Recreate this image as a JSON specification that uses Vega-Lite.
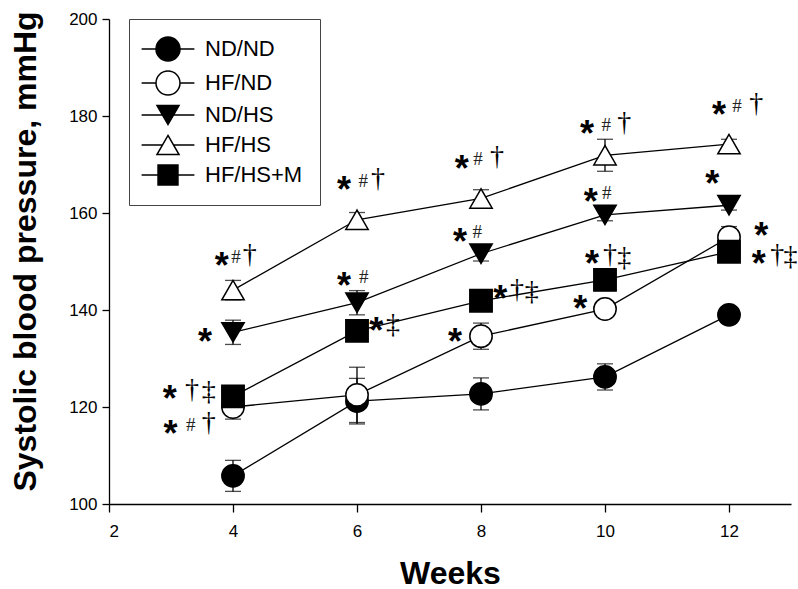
{
  "$schema": "https://vega.github.io/schema/vega-lite/v6.json",
  "width": 682,
  "height": 485,
  "autosize": "none",
  "padding": {"left": 109, "top": 19, "right": 7, "bottom": 85},
  "background": "white",
  "config": {
    "view": {"stroke": null},
    "axis": {
      "grid": false,
      "domainColor": "black",
      "tickColor": "black",
      "domainWidth": 1.3,
      "tickWidth": 1.3,
      "tickSize": 7,
      "labelFont": "Liberation Sans",
      "labelFontSize": 17,
      "labelColor": "black",
      "labelPadding": 5,
      "titleFont": "Liberation Sans",
      "titleFontWeight": "bold",
      "titleColor": "black"
    }
  },
  "datasets": {
    "bp": [
      {"week": 4, "group": "ND/ND", "sbp": 105.8, "sem": 3.2},
      {"week": 6, "group": "ND/ND", "sbp": 121.2, "sem": 4.7},
      {"week": 8, "group": "ND/ND", "sbp": 122.7, "sem": 3.3},
      {"week": 10, "group": "ND/ND", "sbp": 126.2, "sem": 2.7},
      {"week": 12, "group": "ND/ND", "sbp": 139.0, "sem": 1.0},
      {"week": 4, "group": "HF/ND", "sbp": 120.0, "sem": 2.5},
      {"week": 6, "group": "HF/ND", "sbp": 122.5, "sem": 5.7},
      {"week": 8, "group": "HF/ND", "sbp": 134.6, "sem": 2.7},
      {"week": 10, "group": "HF/ND", "sbp": 140.2, "sem": 1.0},
      {"week": 12, "group": "HF/ND", "sbp": 155.0, "sem": 2.2},
      {"week": 4, "group": "ND/HS", "sbp": 135.4, "sem": 2.5},
      {"week": 6, "group": "ND/HS", "sbp": 141.5, "sem": 2.5},
      {"week": 8, "group": "ND/HS", "sbp": 151.6, "sem": 1.5},
      {"week": 10, "group": "ND/HS", "sbp": 159.6, "sem": 1.2},
      {"week": 12, "group": "ND/HS", "sbp": 161.6, "sem": 1.0},
      {"week": 4, "group": "HF/HS", "sbp": 144.1, "sem": 2.0},
      {"week": 6, "group": "HF/HS", "sbp": 158.6, "sem": 1.5},
      {"week": 8, "group": "HF/HS", "sbp": 163.0, "sem": 1.8},
      {"week": 10, "group": "HF/HS", "sbp": 171.9, "sem": 3.3},
      {"week": 12, "group": "HF/HS", "sbp": 174.2, "sem": 1.0},
      {"week": 4, "group": "HF/HS+M", "sbp": 122.2, "sem": 2.0},
      {"week": 6, "group": "HF/HS+M", "sbp": 135.7, "sem": 1.5},
      {"week": 8, "group": "HF/HS+M", "sbp": 141.9, "sem": 1.0},
      {"week": 10, "group": "HF/HS+M", "sbp": 146.2, "sem": 1.0},
      {"week": 12, "group": "HF/HS+M", "sbp": 152.0, "sem": 1.0}
    ],
    "ann": [
      {"week": 3.82, "sbp": 150.9, "g": "*"},
      {"week": 3.55, "sbp": 135.3, "g": "*"},
      {"week": 2.98, "sbp": 123.5, "g": "*"},
      {"week": 2.99, "sbp": 116.3, "g": "*"},
      {"week": 5.79, "sbp": 166.6, "g": "*"},
      {"week": 5.79, "sbp": 146.8, "g": "*"},
      {"week": 6.31, "sbp": 137.5, "g": "*"},
      {"week": 7.69, "sbp": 170.9, "g": "*"},
      {"week": 7.66, "sbp": 155.9, "g": "*"},
      {"week": 8.31, "sbp": 144.1, "g": "*"},
      {"week": 7.58, "sbp": 135.3, "g": "*"},
      {"week": 9.71, "sbp": 178.1, "g": "*"},
      {"week": 9.77, "sbp": 164.1, "g": "*"},
      {"week": 9.79, "sbp": 151.3, "g": "*"},
      {"week": 9.6, "sbp": 142.1, "g": "*"},
      {"week": 11.84, "sbp": 182.1, "g": "*"},
      {"week": 11.73, "sbp": 167.8, "g": "*"},
      {"week": 12.52, "sbp": 157.1, "g": "*"},
      {"week": 12.48, "sbp": 151.3, "g": "*"},
      {"week": 4.05, "sbp": 150.9, "g": "#"},
      {"week": 3.32, "sbp": 116.3, "g": "#"},
      {"week": 6.1, "sbp": 166.6, "g": "#"},
      {"week": 6.11, "sbp": 146.8, "g": "#"},
      {"week": 7.95, "sbp": 171.1, "g": "#"},
      {"week": 7.94, "sbp": 156.1, "g": "#"},
      {"week": 10.02, "sbp": 178.1, "g": "#"},
      {"week": 10.03, "sbp": 164.1, "g": "#"},
      {"week": 12.13, "sbp": 182.1, "g": "#"},
      {"week": 4.27, "sbp": 151.3, "g": "†"},
      {"week": 3.34, "sbp": 123.5, "g": "†"},
      {"week": 3.61, "sbp": 116.7, "g": "†"},
      {"week": 6.34, "sbp": 167.0, "g": "†"},
      {"week": 8.26, "sbp": 171.5, "g": "†"},
      {"week": 8.58, "sbp": 144.1, "g": "†"},
      {"week": 10.31, "sbp": 178.6, "g": "†"},
      {"week": 10.08, "sbp": 151.3, "g": "†"},
      {"week": 12.44, "sbp": 182.5, "g": "†"},
      {"week": 12.78, "sbp": 151.3, "g": "†"},
      {"week": 3.61, "sbp": 123.1, "g": "‡"},
      {"week": 6.58, "sbp": 136.9, "g": "‡"},
      {"week": 8.82, "sbp": 143.7, "g": "‡"},
      {"week": 10.31, "sbp": 150.7, "g": "‡"},
      {"week": 12.99, "sbp": 150.9, "g": "‡"}
    ]
  },
  "encoding": {
    "x": {
      "field": "week",
      "type": "quantitative",
      "scale": {"domain": [2, 13], "nice": false, "zero": false},
      "axis": {
        "title": "Weeks",
        "titleFontSize": 32,
        "values": [2, 4, 6, 8, 10, 12],
        "tickSize": 8,
        "labelPadding": 11,
        "titleY": 79,
        "titleBaseline": "alphabetic"
      }
    },
    "y": {
      "field": "sbp",
      "type": "quantitative",
      "scale": {"domain": [100, 200], "nice": false, "zero": false},
      "axis": {
        "title": "Systolic blood pressure, mmHg",
        "titleFontSize": 32,
        "values": [100, 120, 140, 160, 180, 200],
        "titleX": -67,
        "titleY": 232,
        "titleBaseline": "bottom"
      }
    }
  },
  "layer": [
    {
      "data": {"name": "bp"},
      "mark": {"type": "line", "color": "black", "strokeWidth": 1.3},
      "encoding": {"detail": {"field": "group", "type": "nominal"}}
    },
    {
      "data": {"name": "bp"},
      "mark": {"type": "errorbar", "color": "black", "thickness": 1.3, "ticks": {"size": 16, "thickness": 1.3, "color": "black"}},
      "encoding": {
        "yError": {"field": "sem"},
        "detail": {"field": "group", "type": "nominal"}
      }
    },
    {
      "data": {"name": "bp"},
      "mark": {"type": "point", "filled": true, "stroke": "black", "strokeWidth": 1.5, "opacity": 1},
      "encoding": {
        "shape": {
          "field": "group",
          "type": "nominal",
          "scale": {"domain": ["ND/ND", "HF/ND", "ND/HS", "HF/HS", "HF/HS+M"], "range": ["circle", "circle", "triangle-down", "triangle-up", "square"]},
          "legend": null
        },
        "fill": {
          "field": "group",
          "type": "nominal",
          "scale": {"domain": ["ND/ND", "HF/ND", "ND/HS", "HF/HS", "HF/HS+M"], "range": ["black", "white", "black", "white", "black"]},
          "legend": null
        },
        "size": {
          "field": "group",
          "type": "nominal",
          "scale": {"domain": ["ND/ND", "HF/ND", "ND/HS", "HF/HS", "HF/HS+M"], "range": [500, 500, 530, 530, 400]},
          "legend": null
        }
      }
    },
    {
      "data": {"name": "bp"},
      "mark": {"type": "point", "filled": true, "strokeWidth": 1.5, "opacity": 0},
      "encoding": {
        "shape": {
          "field": "group",
          "type": "nominal",
          "scale": {"domain": ["ND/ND", "HF/ND", "ND/HS", "HF/HS", "HF/HS+M"], "range": [
            "M-2.2,0H-1M1,0H2.2M1,0A1,1 0 1,1 -1,0A1,1 0 1,1 1,0Z",
            "M-2.2,0H-1M1,0H2.2M1,0A1,1 0 1,1 -1,0A1,1 0 1,1 1,0Z",
            "M-2.2,0H-0.46M0.46,0H2.2M-0.92,-0.8H0.92L0,0.8Z",
            "M-2.2,0H-0.46M0.46,0H2.2M0,-0.8L0.92,0.8H-0.92Z",
            "M-2.2,0H-0.83M0.83,0H2.2M-0.83,-0.83H0.83V0.83H-0.83Z"
          ]},
          "legend": {
            "orient": "none", "legendX": 20, "legendY": 0, "title": null,
            "symbolSize": 576, "symbolStrokeWidth": 1.5, "symbolOpacity": 1, "symbolOffset": 9,
            "labelFont": "Liberation Sans", "labelFontSize": 22, "labelColor": "black", "labelOffset": 24,
            "rowPadding": 4, "padding": 17, "strokeColor": "#444", "fillColor": "white"
          }
        },
        "fill": {
          "field": "group",
          "type": "nominal",
          "scale": {"domain": ["ND/ND", "HF/ND", "ND/HS", "HF/HS", "HF/HS+M"], "range": ["black", "white", "black", "white", "black"]},
          "legend": {
            "orient": "none", "legendX": 20, "legendY": 0, "title": null,
            "symbolSize": 576, "symbolStrokeWidth": 1.5, "symbolOpacity": 1, "symbolOffset": 9,
            "labelFont": "Liberation Sans", "labelFontSize": 22, "labelColor": "black", "labelOffset": 24,
            "rowPadding": 4, "padding": 17, "strokeColor": "#444", "fillColor": "white"
          }
        },
        "stroke": {
          "field": "group",
          "type": "nominal",
          "scale": {"domain": ["ND/ND", "HF/ND", "ND/HS", "HF/HS", "HF/HS+M"], "range": ["black", "black", "black", "black", "black"]},
          "legend": {
            "orient": "none", "legendX": 20, "legendY": 0, "title": null,
            "symbolSize": 576, "symbolStrokeWidth": 1.5, "symbolOpacity": 1, "symbolOffset": 9,
            "labelFont": "Liberation Sans", "labelFontSize": 22, "labelColor": "black", "labelOffset": 24,
            "rowPadding": 4, "padding": 17, "strokeColor": "#444", "fillColor": "white"
          }
        }
      }
    },
    {
      "data": {"name": "ann"},
      "transform": [{"filter": "datum.g == '*'"}],
      "mark": {"type": "text", "font": "Liberation Sans", "fontWeight": "bold", "fontSize": 36, "color": "black", "align": "center", "baseline": "middle", "dy": 10},
      "encoding": {"text": {"field": "g"}}
    },
    {
      "data": {"name": "ann"},
      "transform": [{"filter": "datum.g == '#'"}],
      "mark": {"type": "text", "font": "Liberation Serif", "fontSize": 19, "color": "#222", "align": "center", "baseline": "middle", "dy": 0},
      "encoding": {"text": {"field": "g"}}
    },
    {
      "data": {"name": "ann"},
      "transform": [{"filter": "datum.g == '†' || datum.g == '‡'"}],
      "mark": {"type": "text", "font": "Liberation Serif", "fontSize": 28, "color": "black", "align": "center", "baseline": "middle", "dy": 0},
      "encoding": {"text": {"field": "g"}}
    }
  ],
  "resolve": {"scale": {"shape": "independent", "fill": "independent", "size": "independent", "stroke": "independent"}}
}
